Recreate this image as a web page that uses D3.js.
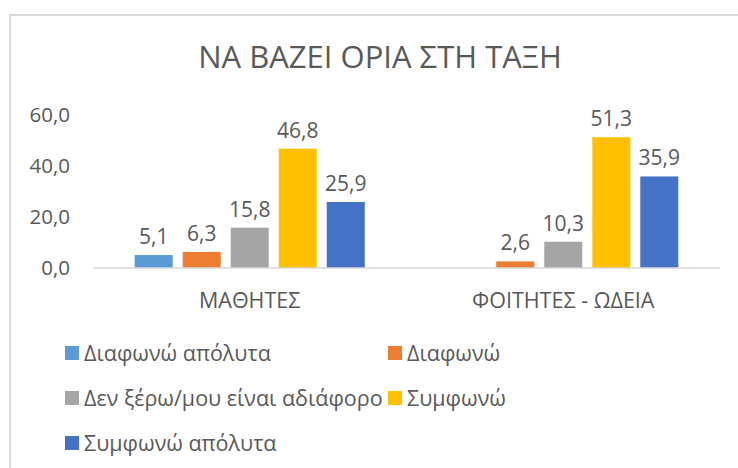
<!DOCTYPE html>
<html>
<head>
<meta charset="utf-8">
<script src="https://cdn.jsdelivr.net/npm/d3@7"></script>
<style>
  body { margin: 0; background: #fff; }
  svg { display: block; font-family: "Open Sans", sans-serif; }
</style>
</head>
<body>
<svg id="chart" width="738" height="468"></svg>
<script>
// ---- data ----
const title = "ΝΑ ΒΑΖΕΙ ΟΡΙΑ ΣΤΗ ΤΑΞΗ";
const categories = ["ΜΑΘΗΤΕΣ", "ΦΟΙΤΗΤΕΣ - ΩΔΕΙΑ"];
const seriesNames = ["Διαφωνώ απόλυτα", "Διαφωνώ", "Δεν ξέρω/μου είναι αδιάφορο", "Συμφωνώ", "Συμφωνώ απόλυτα"];
const seriesColors = ["#5B9BD5", "#ED7D31", "#A5A5A5", "#FFC000", "#4472C4"];
// values per category, one per series (null = no value)
const valuesMathites = [5.1, 6.3, 15.8, 46.8, 25.9];
const valuesFoitites = [null, 2.6, 10.3, 51.3, 35.9];
const yTicks = [0, 20, 40, 60];

const values = [valuesMathites, valuesFoitites];
const textColor = "#595959";
const fmt = v => d3.format(".1f")(v).replace(".", ",");

const svg = d3.select("#chart");

// chart frame (runs off the right/bottom edge like the screenshot)
svg.append("rect")
  .attr("x", 10).attr("y", 15)
  .attr("width", 760).attr("height", 480)
  .attr("fill", "none")
  .attr("stroke", "#d9d9d9")
  .attr("stroke-width", 2);

// title
svg.append("text")
  .attr("x", 380).attr("y", 68)
  .attr("text-anchor", "middle")
  .attr("fill", textColor)
  .style("font-size", "31px")
  .text(title);

// scales
const plot = {left: 93, right: 720, top: 115, bottom: 268};

const x0 = d3.scaleBand()
  .domain(categories)
  .range([plot.left, plot.right])
  .paddingInner(0.2663)
  .paddingOuter(0.133);

const x1 = d3.scaleBand()
  .domain(d3.range(seriesNames.length))
  .range([0, x0.bandwidth()])
  .paddingInner(0.2083)
  .paddingOuter(0);

const y = d3.scaleLinear()
  .domain([0, 60])
  .range([plot.bottom, plot.top]);

// y axis labels (no line, no gridlines)
svg.append("g")
  .selectAll("text")
  .data(yTicks)
  .join("text")
    .attr("x", 70)
    .attr("y", d => y(d))
    .attr("dy", "0.35em")
    .attr("text-anchor", "end")
    .attr("fill", textColor)
    .style("font-size", "20.5px")
    .text(d => fmt(d));

// bars
const groups = svg.append("g")
  .selectAll("g")
  .data(categories)
  .join("g")
    .attr("transform", d => `translate(${x0(d)},0)`);

const cells = groups.selectAll("g")
  .data((c, ci) => values[ci].map((v, si) => ({v, si})).filter(d => d.v != null))
  .join("g");

cells.append("rect")
  .attr("x", d => x1(d.si))
  .attr("width", x1.bandwidth())
  .attr("y", d => y(d.v))
  .attr("height", d => y(0) - y(d.v))
  .attr("fill", d => seriesColors[d.si]);

cells.append("text")
  .attr("x", d => x1(d.si) + x1.bandwidth() / 2)
  .attr("y", d => y(d.v) - 11)
  .attr("text-anchor", "middle")
  .attr("fill", textColor)
  .style("font-size", "21px")
  .text(d => fmt(d.v));

// x axis line
svg.append("line")
  .attr("x1", plot.left).attr("x2", plot.right)
  .attr("y1", y(0)).attr("y2", y(0))
  .attr("stroke", "#d9d9d9")
  .attr("stroke-width", 1.5);

// category labels
svg.append("g")
  .selectAll("text")
  .data(categories)
  .join("text")
    .attr("x", d => x0(d) + x0.bandwidth() / 2)
    .attr("y", 300)
    .attr("dy", "0.35em")
    .attr("text-anchor", "middle")
    .attr("fill", textColor)
    .style("font-size", "21.5px")
    .text(d => d);

// legend: two columns, three rows
const legendCols = [65, 388];
const legendRows = [353, 398, 443];

const legend = svg.append("g")
  .selectAll("g")
  .data(seriesNames)
  .join("g")
    .attr("transform", (d, i) => `translate(${legendCols[i % 2]},${legendRows[Math.floor(i / 2)]})`);

legend.append("rect")
  .attr("x", 0).attr("y", -7)
  .attr("width", 14).attr("height", 14)
  .attr("fill", (d, i) => seriesColors[i]);

legend.append("text")
  .attr("x", 19)
  .attr("dy", "0.35em")
  .attr("fill", textColor)
  .style("font-size", "21.5px")
  .text(d => d);
</script>
</body>
</html>
